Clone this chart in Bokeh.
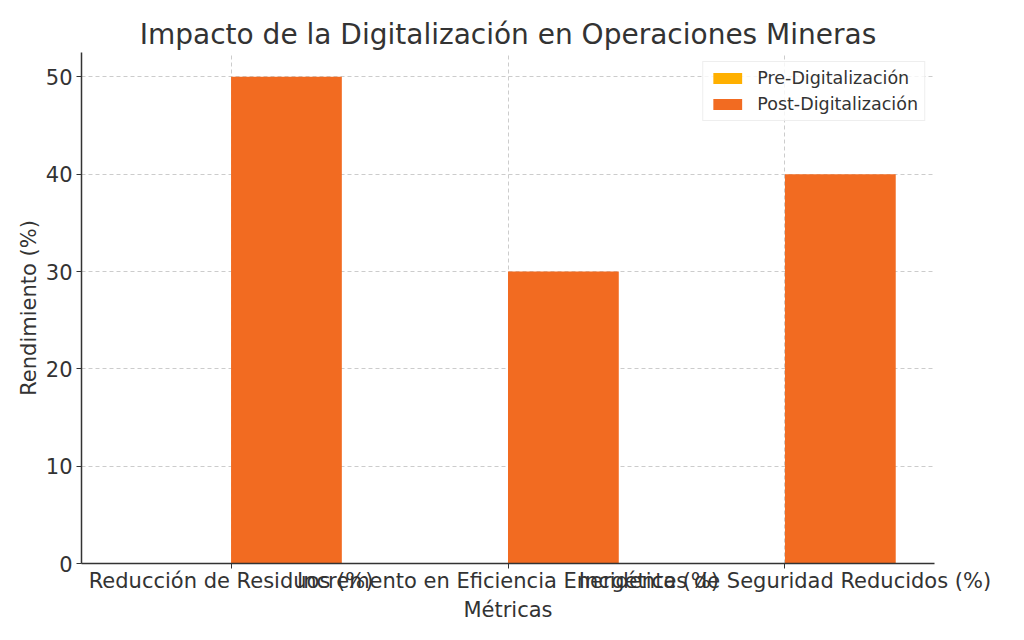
from bokeh.plotting import figure
from bokeh.models import Range1d, FixedTicker, Legend, LegendItem, ColumnDataSource
from bokeh.embed import file_html
from bokeh.resources import INLINE

categories = ["Reducción de Residuos (%)", "Incremento en Eficiencia Energética (%)", "Incidentes de Seguridad Reducidos (%)"]
pre_values = [0, 0, 0]
post_values = [50, 30, 40]
y_ticks = [0, 10, 20, 30, 40, 50]

FONT = "DejaVu Sans"
TXT = "#333333"
PRE_C = "#FFB000"
POST_C = "#F26B21"

idx = list(range(len(categories)))
width = 0.4
src_pre = ColumnDataSource(dict(x=[i - width / 2 for i in idx], top=pre_values))
src_post = ColumnDataSource(dict(x=[i + width / 2 for i in idx], top=post_values))

p = figure(width=1008, height=624, output_backend="svg", toolbar_location=None,
           x_range=Range1d(-0.54, 2.54), y_range=Range1d(0, 52.5),
           min_border_left=81, min_border_right=74, min_border_top=52, min_border_bottom=60)

r_pre = p.vbar(x="x", top="top", width=width, source=src_pre, fill_color=PRE_C, line_color=None)
r_post = p.vbar(x="x", top="top", width=width, source=src_post, fill_color=POST_C, line_color=None)

p.title.text = "Impacto de la Digitalización en Operaciones Mineras"
p.title.align = "center"
p.title.text_font = FONT
p.title.text_font_size = "28px"
p.title.text_font_style = "normal"
p.title.text_color = TXT
p.title.offset = 0
p.title.standoff = 4

p.outline_line_color = None
p.background_fill_color = "white"

p.xaxis.ticker = FixedTicker(ticks=idx)
p.xaxis.major_label_overrides = {i: c for i, c in zip(idx, categories)}
p.yaxis.ticker = FixedTicker(ticks=y_ticks)
p.xaxis.axis_label = "Métricas"
p.yaxis.axis_label = "Rendimiento (%)"

for ax in (p.xaxis, p.yaxis):
    ax.axis_line_color = TXT
    ax.axis_line_width = 1.5
    ax.major_tick_line_color = TXT
    ax.major_tick_in = 0
    ax.major_tick_out = 5
    ax.minor_tick_line_color = None
    ax.major_label_text_font = FONT
    ax.major_label_text_font_size = "21px"
    ax.major_label_text_color = TXT
    ax.axis_label_text_font = FONT
    ax.axis_label_text_font_size = "21px"
    ax.axis_label_text_font_style = "normal"
    ax.axis_label_text_color = TXT
    ax.axis_label_standoff = 2

p.xaxis.major_label_standoff = 0
p.yaxis.major_label_standoff = 4

p.xgrid.grid_line_color = "#cccccc"
p.ygrid.grid_line_color = "#cccccc"
p.xgrid.grid_line_dash = "4 3"
p.ygrid.grid_line_dash = "4 3"
p.xgrid.ticker = FixedTicker(ticks=idx)
p.ygrid.ticker = FixedTicker(ticks=y_ticks)

legend = Legend(items=[LegendItem(label="Pre-Digitalización", renderers=[r_pre]),
                       LegendItem(label="Post-Digitalización", renderers=[r_post])],
                location="top_right")
legend.label_text_font = FONT
legend.label_text_font_size = "17.5px"
legend.label_text_color = TXT
legend.glyph_width = 36
legend.glyph_height = 14
legend.border_line_color = "#dddddd"
legend.background_fill_alpha = 0.8
legend.margin = 9
legend.padding = 6
legend.spacing = 6
legend.label_standoff = 12
p.add_layout(legend)

open("out.html", "w").write(file_html(p, INLINE))
